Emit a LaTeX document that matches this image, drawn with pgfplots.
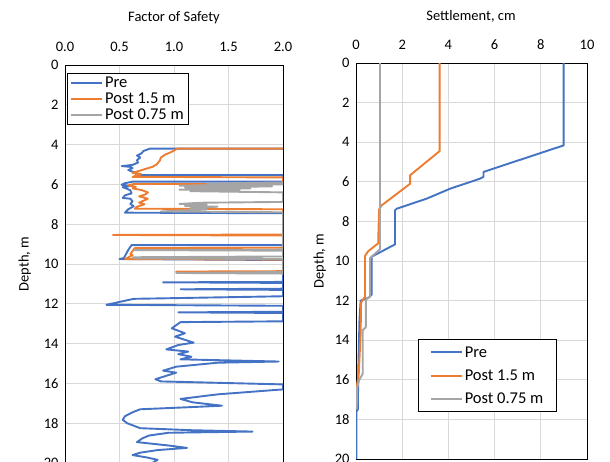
\documentclass[border=0pt]{standalone}
\usepackage{fontspec}
\setmainfont{Carlito}
\usepackage{pgfplots}
\pgfplotsset{compat=1.18}
\definecolor{cblue}{HTML}{4472C4}
\definecolor{corange}{HTML}{ED7D31}
\definecolor{cgray}{HTML}{A5A5A5}
\definecolor{cgrid}{HTML}{D9D9D9}
\pgfplotsset{
  myaxis/.style={
    scale only axis, y dir=reverse, ymin=0, ymax=20, ytick={0,2,...,20},
    xticklabel pos=upper,
    grid=major, major grid style={cgrid, line width=0.9pt},
    axis line style={black, line width=0.8pt},
    major tick length=0pt,
    tick label style={font=\fontsize{14.5}{16}\selectfont},
    xticklabel style={yshift=10pt},
    yticklabel style={xshift=-3pt},
    /pgf/number format/assume math mode=true,
    label style={font=\fontsize{14.5}{17}\selectfont},
    legend cell align=left,
    legend image code/.code={\draw[##1, line width=2pt] (0pt,0pt) -- (31pt,0pt);},
    every axis plot/.append style={line width=1.9pt, line join=round},
  },
}
\begin{document}
\begin{tikzpicture}
\begin{axis}[myaxis,
  at={(65pt,-65pt)}, anchor=north west, width=218pt, height=398pt,
  xmin=0, xmax=2, xtick={0,0.5,...,2},
  xticklabel style={/pgf/number format/.cd, fixed, fixed zerofill, precision=1},
  ylabel={Depth, m}, ylabel style={yshift=6pt},
  legend style={at={(0.008,0.979)}, anchor=north west, draw=black, line width=0.8pt,
    font=\fontsize{16.5}{19}\selectfont, inner xsep=3pt, inner ysep=1pt, row sep=0pt},
]
\addplot[cblue] coordinates {
(2.00,4.20) (0.78,4.20) (0.72,4.32) (0.70,4.45) (0.66,4.55) (0.69,4.65) (0.66,4.78) (0.67,4.90)
(0.62,5.02) (0.52,5.08) (0.60,5.12) (0.62,5.18) (0.58,5.28) (0.64,5.40) (0.66,5.53) (2.00,5.53)
(2.00,5.86) (0.62,5.86) (0.55,5.94) (0.52,6.02) (0.60,6.08) (0.53,6.14) (0.57,6.22) (0.60,6.30)
(0.61,6.45) (0.55,6.55) (0.53,6.68) (0.60,6.72) (0.62,6.85) (0.60,6.98) (0.63,7.10) (0.58,7.25)
(0.55,7.42) (2.00,7.45) (2.00,9.05) (0.61,9.05) (0.58,9.30) (0.56,9.50) (0.54,9.70) (0.50,9.75)
(2.00,9.80) (2.00,10.90) (0.90,10.92) (2.00,10.95) (2.00,11.24) (1.06,11.27) (2.00,11.30)
(2.00,11.62) (0.63,11.75) (0.38,12.05) (2.00,12.10) (2.00,12.40) (1.04,12.43) (2.00,12.46)
(2.00,12.88) (1.06,12.92) (0.98,13.23) (1.10,13.48) (1.01,13.65) (1.18,13.95) (1.04,14.07)
(0.93,14.29) (1.13,14.40) (1.04,14.53) (1.16,14.66) (1.06,14.79) (1.96,14.90) (1.40,14.96)
(1.02,15.16) (0.90,15.36) (1.02,15.46) (0.95,15.58) (0.83,15.79) (0.88,15.90) (2.00,16.05)
(2.00,16.30) (1.40,16.55) (1.06,16.78) (1.17,16.95) (1.44,17.12) (1.20,17.18) (0.69,17.30)
(0.62,17.45) (0.55,17.65) (0.53,17.83) (0.57,18.00) (0.69,18.25) (1.15,18.35) (1.72,18.42)
(0.95,18.48) (0.77,18.62) (0.71,18.76) (0.66,18.95) (0.78,19.02) (0.95,19.12) (1.12,19.24)
(0.85,19.35) (0.69,19.48) (0.62,19.60) (0.75,19.72) (0.85,19.84) (0.80,20.00)
};
\addlegendentry{Pre}
\addplot[corange] coordinates {
(2.00,4.20) (1.03,4.20) (0.98,4.36) (0.92,4.50) (0.88,4.65) (0.87,4.80) (0.84,5.00) (0.80,5.12)
(0.74,5.22) (0.68,5.32) (0.62,5.42) (0.70,5.48) (0.66,5.55) (0.62,5.62) (2.00,5.65) (2.00,5.98)
(0.63,5.98) (0.58,6.05) (0.65,6.12) (0.62,6.20) (0.70,6.28) (0.76,6.40) (0.74,6.50) (0.68,6.60)
(0.76,6.72) (0.72,6.82) (0.68,6.92) (0.73,7.00) (0.66,7.12) (0.64,7.22) (2.00,7.25) (2.00,8.52)
(0.44,8.54) (2.00,8.57) (2.00,9.18) (0.64,9.20) (0.62,9.35) (0.60,9.50) (0.62,9.55) (0.57,9.70)
(0.55,9.75) (2.00,9.78) (2.00,10.36) (1.02,10.38) (2.00,10.42)
};
\addlegendentry{Post 1.5 m}
\addplot[cgray] coordinates {
(2.00,5.90) (1.30,5.96) (2.00,6.00) (1.05,6.06) (1.90,6.10) (1.10,6.15) (1.70,6.20) (1.05,6.26)
(1.60,6.30) (1.15,6.34) (2.00,6.40) (2.00,6.88) (1.25,6.92) (1.05,6.98) (1.30,7.02) (1.10,7.08)
(1.40,7.12) (1.15,7.18) (1.30,7.25) (0.88,7.36) (2.00,7.40) (2.00,9.28) (0.64,9.30) (2.00,9.33)
(2.00,9.62) (0.62,9.66) (0.66,9.72) (2.00,9.75) (2.00,10.40) (1.02,10.45) (2.00,10.48) (2.00,10.55)
};
\addlegendentry{Post 0.75 m}
\end{axis}
\node[font=\fontsize{14.5}{17}\selectfont] at (174pt,-18pt) {Factor of Safety};
\begin{axis}[myaxis,
  at={(356pt,-63pt)}, anchor=north west, width=231pt, height=396pt,
  xmin=0, xmax=10, xtick={0,2,...,10},
  ylabel={Depth, m}, ylabel style={yshift=2pt},
  legend style={at={(0.27,0.303)}, anchor=north west, draw=black, line width=0.8pt,
    font=\fontsize{16.5}{19}\selectfont, inner xsep=11pt, inner ysep=5pt, row sep=7pt},
]
\addplot[cblue] coordinates {
(8.99,0) (8.99,4.16) (5.52,5.50) (5.52,5.75) (5.37,5.84) (4.07,6.35) (3.06,6.85) (1.76,7.36)
(1.69,7.44) (1.69,9.16) (0.68,9.78) (0.68,11.70) (0.55,11.85) (0.20,12.00) (0.15,13.00)
(0.10,15.50) (0.08,17.50) (0.02,17.60) (0.02,20.00)
};
\addlegendentry{Pre}
\addplot[corange] coordinates {
(3.62,0) (3.62,4.45) (2.34,5.67) (2.34,6.10) (1.11,7.19) (1.00,7.40) (0.97,8.60) (0.97,9.10)
(0.53,9.50) (0.39,9.74) (0.39,11.80) (0.22,12.10) (0.20,13.70) (0.12,15.70) (0.05,16.20) (0.00,16.50)
};
\addlegendentry{Post 1.5 m}
\addplot[cgray] coordinates {
(1.04,0) (1.04,9.40) (0.61,9.85) (0.61,11.80) (0.43,11.95) (0.43,13.33) (0.29,13.50) (0.29,15.70)
(0.14,16.00) (0.05,16.40) (0.03,17.50)
};
\addlegendentry{Post 0.75 m}
\end{axis}
\node[font=\fontsize{14.5}{17}\selectfont] at (471pt,-16pt) {Settlement, cm};
\pgfresetboundingbox
\path[use as bounding box] (0pt,0pt) rectangle (610pt,-461pt);
\end{tikzpicture}
\end{document}
